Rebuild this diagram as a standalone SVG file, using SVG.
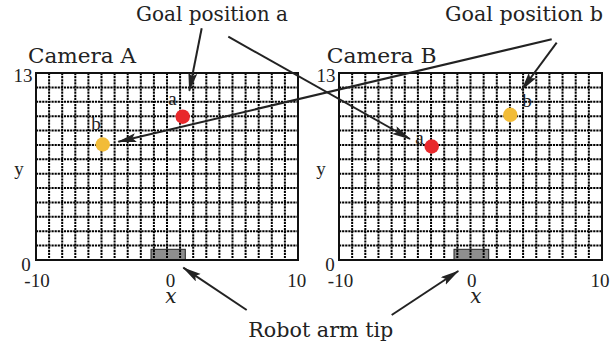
<svg xmlns="http://www.w3.org/2000/svg" width="613" height="342" viewBox="0 0 613 342">
<style>
.t{font-family:'Liberation Serif','Times New Roman',serif;fill:#222}
.d{font-family:'DejaVu Serif',serif;fill:#222}
.lbl{font-size:20px}
.big{font-size:21px}
.num{font-size:19px}
.pt{font-size:19px}
.ax{font-size:20px;font-style:italic}
.grid{fill:none;stroke:#000;stroke-width:2;stroke-dasharray:2.2 0.9}
.frame{fill:none;stroke:#111;stroke-width:2}
.tip{fill:#8e8e8e;stroke:#222;stroke-width:1}
.conn{fill:none;stroke:#222;stroke-width:2;marker-end:url(#ah)}
</style>
<defs>
<marker id="ah" markerUnits="userSpaceOnUse" markerWidth="20" markerHeight="10" refX="18" refY="4.5" orient="auto">
<path d="M0,0 L19,4.5 L0,9 L3.5,4.5 z" fill="#222"/>
</marker>
</defs>
<rect width="613" height="342" fill="#fff"/>

<g id="cameraA">
<rect class="tip" x="151" y="249.3" width="34.3" height="10.7"/>
<path class="grid" d="M49.1,73V260M62.2,73V260M75.3,73V260M88.4,73V260M101.5,73V260M114.6,73V260M127.7,73V260M140.8,73V260M153.9,73V260M167,73V260M180.1,73V260M193.2,73V260M206.3,73V260M219.4,73V260M232.5,73V260M245.6,73V260M258.7,73V260M271.8,73V260M284.9,73V260"/>
<path class="grid" d="M36,87.38H298M36,101.77H298M36,116.15H298M36,130.54H298M36,144.92H298M36,159.31H298M36,173.69H298M36,188.08H298M36,202.46H298M36,216.85H298M36,231.23H298M36,245.62H298"/>
<rect class="frame" x="36" y="73" width="262" height="187"/>
<circle cx="182.7" cy="116.7" r="7.2" fill="#e8282b"/>
<circle cx="102.7" cy="144.5" r="7.2" fill="#f2bc38"/>
<text class="t pt" x="172.5" y="105" text-anchor="middle">a</text>
<text class="t pt" x="96" y="130" text-anchor="middle">b</text>
<text class="d big" x="28" y="62.5" textLength="108" lengthAdjust="spacingAndGlyphs">Camera A</text>
<text class="t num" x="23" y="81.7" text-anchor="middle">13</text>
<text class="t num" x="26" y="270.5" text-anchor="middle">0</text>
<text class="t num" x="37" y="287" text-anchor="middle">-10</text>
<text class="t num" x="170.5" y="287" text-anchor="middle">0</text>
<text class="t num" x="296.7" y="287" text-anchor="middle">10</text>
<text class="d ax" x="171" y="303" text-anchor="middle">x</text>
<text class="t num" x="19" y="175" text-anchor="middle">y</text>
</g>

<g id="cameraB">
<rect class="tip" x="454" y="249.3" width="34.7" height="10.7"/>
<path class="grid" d="M352.15,73V260M365.3,73V260M378.45,73V260M391.6,73V260M404.75,73V260M417.9,73V260M431.05,73V260M444.2,73V260M457.35,73V260M470.5,73V260M483.65,73V260M496.8,73V260M509.95,73V260M523.1,73V260M536.25,73V260M549.4,73V260M562.55,73V260M575.7,73V260M588.85,73V260"/>
<path class="grid" d="M339,87.38H602M339,101.77H602M339,116.15H602M339,130.54H602M339,144.92H602M339,159.31H602M339,173.69H602M339,188.08H602M339,202.46H602M339,216.85H602M339,231.23H602M339,245.62H602"/>
<rect class="frame" x="339" y="73" width="263" height="187"/>
<circle cx="431.7" cy="146.5" r="7.2" fill="#e8282b"/>
<circle cx="510.3" cy="114.8" r="7.2" fill="#f2bc38"/>
<text class="t pt" x="419.5" y="143.5" text-anchor="middle">a</text>
<text class="t pt" x="527" y="106.5" text-anchor="middle">b</text>
<text class="d big" x="326.7" y="62.7" textLength="110" lengthAdjust="spacingAndGlyphs">Camera B</text>
<text class="t num" x="326" y="81.7" text-anchor="middle">13</text>
<text class="t num" x="330" y="270.5" text-anchor="middle">0</text>
<text class="t num" x="340.5" y="287" text-anchor="middle">-10</text>
<text class="t num" x="471.7" y="287" text-anchor="middle">0</text>
<text class="t num" x="600" y="287" text-anchor="middle">10</text>
<text class="d ax" x="475.8" y="303" text-anchor="middle">x</text>
<text class="t num" x="321" y="175" text-anchor="middle">y</text>
</g>

<g id="labelGoalA">
<text class="d lbl" x="136" y="21" textLength="152" lengthAdjust="spacingAndGlyphs">Goal position a</text>
</g>
<g id="labelGoalB">
<text class="d lbl" x="445" y="21" textLength="158" lengthAdjust="spacingAndGlyphs">Goal position b</text>
</g>
<g id="labelRobot">
<text class="d big" x="248.3" y="336.5" textLength="145" lengthAdjust="spacingAndGlyphs">Robot arm tip</text>
</g>

<g id="connectors">
<path class="conn" d="M201.7,28.3L189.3,90.7"/>
<path class="conn" d="M228.3,36.7L410,139"/>
<path class="conn" d="M551.7,39.3L118.3,141.7"/>
<path class="conn" d="M556.7,42.7L521.7,90"/>
<path class="conn" d="M246.7,310L183.3,267.7"/>
<path class="conn" d="M391.7,315L458.3,271"/>
</g>
</svg>
